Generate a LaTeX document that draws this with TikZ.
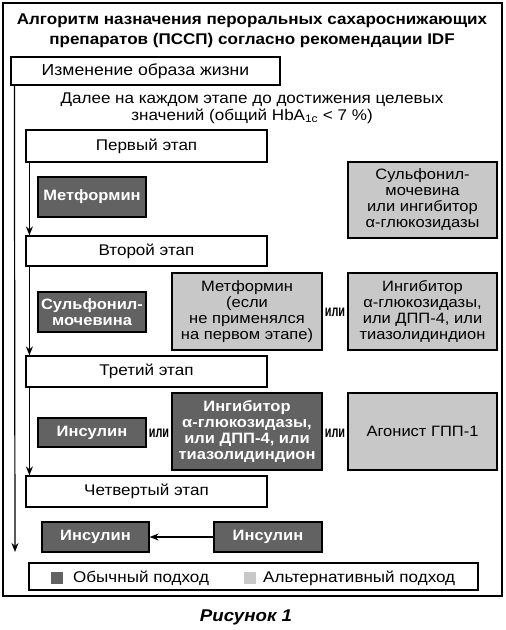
\documentclass[tikz,border=0pt]{standalone}
\usepackage{fontspec}
\setmainfont[FakeStretch=1.1]{Liberation Sans}
\newfontfamily\orfont[FakeStretch=0.68]{Liberation Sans}
\usetikzlibrary{positioning, arrows.meta}
\definecolor{usualgray}{RGB}{98,98,98}
\definecolor{altgray}{RGB}{200,200,200}

\begin{document}
\begin{tikzpicture}[x=1pt, y=-1pt,
    every node/.style={font=\fontsize{15.5}{17}\selectfont, inner sep=0pt},
    stagebox/.style={draw, line width=1.2pt, minimum width=241pt, align=center},
    usual/.style={draw, line width=1.2pt, fill=usualgray, text=white, align=center,
        font=\fontsize{15}{16}\selectfont\bfseries},
    alt/.style={draw, line width=1.2pt, fill=altgray, align=center,
        minimum width=149pt, minimum height=77pt, font=\fontsize{15}{16}\selectfont},
    ortext/.style={font=\orfont\bfseries\fontsize{16}{16}\selectfont},
    legendtext/.style={anchor=west, font=\fontsize{15.5}{16}\selectfont},
    flow/.style={line width=1.2pt, -{Stealth[length=9pt, width=7pt]}}]
    \useasboundingbox (0,0) rectangle (506,630);

    % Frame and title
    \draw[line width=1.2pt] (3,3) rectangle (502,596);
    \node[font=\fontsize{15.5}{19.5}\selectfont\bfseries, align=center] (title) at (252,31)
        {Алгоритм назначения пероральных сахароснижающих\\препаратов (ПССП) согласно рекомендации IDF};

    % Lifestyle
    \node[stagebox, minimum width=269pt, minimum height=28pt, font=\fontsize{16}{17}\selectfont] (life) at (145.5,71) {Изменение образа жизни};
    \node[align=center] (further) at (252,108)
        {Далее на каждом этапе до достижения целевых\\значений (общий HbA\textsubscript{1c} < 7 \%)};

    % First stage
    \node[stagebox, minimum height=32pt] (stage1) at (146.5,146) {Первый этап};
    \node[usual, minimum width=108pt, minimum height=40pt] (met1) at (92,197) {Метформин};
    \node[alt, minimum height=76pt] (alt1) at (422.5,200)
        {Сульфонил-\\мочевина\\или ингибитор\\α-глюкозидазы};

    % Second stage
    \node[stagebox, minimum height=30pt] (stage2) at (146.5,251) {Второй этап};
    \node[usual, minimum width=108pt, minimum height=40pt] (sulf2) at (92,312) {Сульфонил-\\мочевина};
    \node[alt, minimum width=150pt] (met2) at (247,311.5)
        {Метформин\\(если\\не применялся\\на первом этапе)};
    \node[ortext] (or2) at (335,312) {или};
    \node[alt] (inh2) at (422.5,311.5)
        {Ингибитор\\α-глюкозидазы,\\или ДПП-4, или\\тиазолидиндион};

    % Third stage
    \node[stagebox, minimum height=31pt] (stage3) at (146.5,371.5) {Третий этап};
    \node[usual, minimum width=108pt, minimum height=29pt] (ins3) at (92,432.5) {Инсулин};
    \node[ortext] (or3a) at (159,433) {или};
    \node[usual, minimum width=150pt, minimum height=77pt] (inh3) at (247,431.5)
        {Ингибитор\\α-глюкозидазы,\\или ДПП-4, или\\тиазолидиндион};
    \node[ortext] (or3b) at (335,433) {или};
    \node[alt] (glp3) at (422.5,431.5) {Агонист ГПП-1};

    % Fourth stage
    \node[stagebox, minimum height=31pt] (stage4) at (146.5,491.5) {Четвертый этап};
    \node[usual, minimum width=107pt, minimum height=30pt] (ins4a) at (95.5,537) {Инсулин};
    \node[usual, minimum width=108pt, minimum height=30pt] (ins4b) at (268,537) {Инсулин};
    \coordinate (flowend) at (15,552);

    % Arrows
    \draw[flow] ([xshift=4pt]life.south west) -- (flowend);
    \draw[flow] ([xshift=4pt]stage1.south west) -- ([xshift=4pt]stage2.north west);
    \draw[flow] ([xshift=4pt]stage2.south west) -- ([xshift=4pt]stage3.north west);
    \draw[flow] ([xshift=4pt]stage3.south west) -- ([xshift=4pt]stage4.north west);
    \draw[flow] (ins4b) -- (ins4a);

    % Legend
    \node[draw, line width=1.2pt, minimum width=449pt, minimum height=27pt] (legend) at (253.5,576.5) {};
    \node[fill=usualgray, minimum size=12pt] (usualkey) at (57,578) {};
    \node[legendtext] (usualtext) at (73,578) {Обычный подход};
    \node[fill=altgray, minimum size=12pt] (altkey) at (249.5,578) {};
    \node[legendtext] (alttext) at (263,578) {Альтернативный подход};

    % Caption
    \node[font=\fontsize{17}{17}\selectfont\bfseries\itshape] (caption) at (246,617) {Рисунок 1};
\end{tikzpicture}
\end{document}
